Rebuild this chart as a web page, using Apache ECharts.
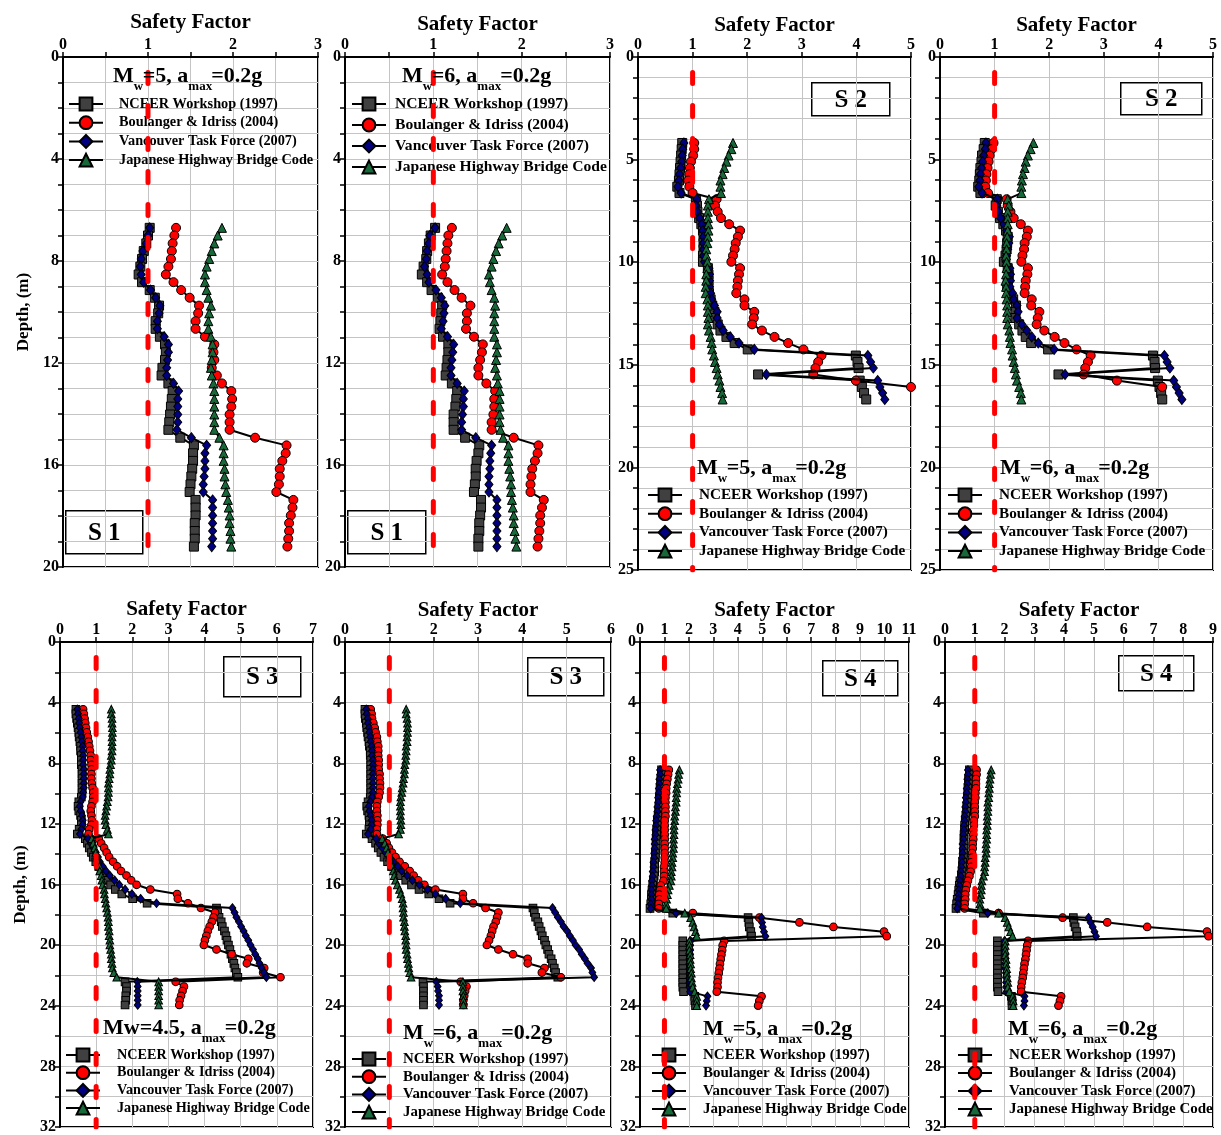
<!DOCTYPE html>
<html><head><meta charset="utf-8">
<script src="https://cdn.jsdelivr.net/npm/echarts@6/dist/echarts.min.js"></script>
<style>html,body{margin:0;padding:0;background:#fff}#c{width:1221px;height:1135px}</style>
</head><body><div id="c"></div>
<script>
const seriesNames = ['NCEER Workshop (1997)','Boulanger & Idriss (2004)','Vancouver Task Force (2007)','Japanese Highway Bridge Code'];

// depths (m)
const depthS1 = [6.70,7.00,7.31,7.61,7.92,8.22,8.53,8.83,9.14,9.44,9.75,10.05,10.36,10.66,10.97,11.27,11.58,11.88,12.19,12.49,12.80,13.10,13.41,13.71,14.02,14.32,14.62,14.93,15.23,15.54,15.84,16.15,16.45,16.76,17.06,17.37,17.67,17.98,18.28,18.59,18.89,19.20];
const depthS2 = [4.19,4.49,4.80,5.10,5.41,5.71,6.02,6.32,6.63,6.93,7.24,7.54,7.85,8.15,8.46,8.76,9.07,9.37,9.68,9.98,10.29,10.59,10.90,11.20,11.51,11.81,12.11,12.42,12.72,13.03,13.33,13.64,13.94,14.25,14.55,14.86,15.16,15.47,15.77,16.08,16.38,16.69];
const depthS3 = [4.44,4.74,5.05,5.35,5.66,5.96,6.27,6.57,6.88,7.18,7.49,7.79,8.10,8.40,8.71,9.01,9.32,9.62,9.93,10.23,10.54,10.84,11.15,11.45,11.76,12.06,12.36,12.67,12.97,13.28,13.58,13.89,14.19,14.50,14.80,15.11,15.41,15.72,16.02,16.33,16.63,16.94,17.24,17.55,17.85,18.16,18.46,18.77,19.07,19.38,19.68,19.99,20.29,20.60,20.90,21.20,21.51,21.81,22.12,22.42,22.73,23.03,23.34,23.64,23.95];
const depthS4 = [8.44,8.74,9.05,9.35,9.66,9.96,10.27,10.57,10.88,11.18,11.49,11.79,12.10,12.40,12.71,13.01,13.32,13.62,13.93,14.23,14.54,14.84,15.15,15.45,15.76,16.06,16.36,16.67,16.97,17.28,17.58,17.89,18.19,18.50,18.80,19.11,19.41,19.72,20.02,20.33,20.63,20.94,21.24,21.55,21.85,22.16,22.46,22.77,23.07,23.38,23.68,23.99];

// S1, Mw=5
const s1m5_nceer = [1.02,1.00,0.98,0.95,0.93,0.91,0.89,0.93,1.02,1.08,1.13,1.12,1.09,1.09,1.14,1.20,1.21,1.20,1.17,1.16,1.24,1.29,1.28,1.27,1.26,1.25,1.24,1.38,1.54,1.53,1.53,1.52,1.51,1.50,1.49,1.56,1.56,1.56,1.55,1.55,1.55,1.54];
const s1m5_boul = [1.33,1.31,1.29,1.28,1.27,1.24,1.21,1.30,1.39,1.49,1.60,1.59,1.56,1.56,1.67,1.78,1.77,1.78,1.75,1.81,1.87,1.98,1.99,1.98,1.96,1.96,1.96,2.26,2.63,2.62,2.58,2.55,2.55,2.54,2.51,2.71,2.70,2.68,2.66,2.66,2.65,2.64];
const s1m5_vanc = [1.02,1.00,0.98,0.94,0.92,0.91,0.92,0.95,1.03,1.09,1.14,1.13,1.11,1.11,1.19,1.24,1.24,1.23,1.22,1.22,1.30,1.36,1.35,1.35,1.35,1.35,1.34,1.51,1.69,1.67,1.67,1.67,1.66,1.65,1.65,1.76,1.76,1.76,1.76,1.76,1.76,1.75];
const s1m5_jhbc = [1.87,1.82,1.78,1.75,1.72,1.69,1.67,1.67,1.69,1.71,1.74,1.72,1.71,1.71,1.74,1.76,1.76,1.75,1.74,1.75,1.77,1.78,1.78,1.78,1.78,1.78,1.78,1.84,1.89,1.89,1.89,1.90,1.90,1.91,1.92,1.94,1.95,1.96,1.96,1.97,1.97,1.98];
// S1, Mw=6
const s1m6_nceer = [1.02,0.97,0.95,0.93,0.92,0.89,0.87,0.93,0.98,1.05,1.10,1.09,1.08,1.07,1.11,1.17,1.17,1.16,1.15,1.14,1.21,1.27,1.26,1.25,1.23,1.23,1.23,1.36,1.52,1.51,1.49,1.48,1.48,1.47,1.46,1.54,1.54,1.53,1.52,1.52,1.51,1.51];
const s1m6_boul = [1.21,1.17,1.16,1.15,1.14,1.13,1.10,1.16,1.24,1.32,1.42,1.38,1.38,1.37,1.46,1.56,1.55,1.53,1.51,1.51,1.60,1.70,1.69,1.69,1.68,1.66,1.66,1.91,2.19,2.18,2.15,2.12,2.11,2.10,2.10,2.25,2.23,2.21,2.21,2.20,2.19,2.18];
const s1m6_vanc = [1.02,0.96,0.95,0.93,0.92,0.90,0.93,0.95,1.03,1.09,1.13,1.12,1.11,1.09,1.16,1.23,1.22,1.21,1.20,1.20,1.27,1.35,1.34,1.34,1.33,1.32,1.32,1.48,1.66,1.65,1.64,1.64,1.63,1.63,1.63,1.72,1.72,1.72,1.72,1.72,1.72,1.72];
const s1m6_jhbc = [1.83,1.78,1.74,1.71,1.68,1.66,1.63,1.64,1.66,1.69,1.70,1.69,1.69,1.69,1.69,1.72,1.72,1.71,1.70,1.72,1.73,1.75,1.75,1.75,1.75,1.75,1.76,1.79,1.85,1.85,1.85,1.86,1.87,1.88,1.88,1.89,1.90,1.91,1.91,1.92,1.93,1.94];
// S2, Mw=5
const s2m5_nceer = [0.81,0.80,0.79,0.78,0.77,0.76,0.75,0.72,0.76,1.06,1.08,1.09,1.12,1.16,1.19,1.20,1.20,1.20,1.19,1.19,1.28,1.29,1.29,1.29,1.30,1.33,1.36,1.40,1.41,1.46,1.51,1.62,1.77,2.01,3.99,4.02,4.04,2.20,4.06,4.10,4.14,4.18];
const s2m5_boul = [1.03,1.03,1.01,0.97,0.95,0.94,0.92,0.94,1.00,1.44,1.41,1.46,1.52,1.67,1.87,1.83,1.79,1.77,1.74,1.71,1.87,1.85,1.83,1.82,1.80,1.95,1.95,2.13,2.12,2.09,2.27,2.50,2.75,3.03,3.36,3.30,3.25,3.21,3.99,5.00];
const s2m5_vanc = [0.84,0.82,0.81,0.80,0.78,0.76,0.75,0.73,0.79,1.08,1.06,1.09,1.13,1.17,1.19,1.20,1.20,1.20,1.20,1.22,1.30,1.31,1.31,1.31,1.33,1.35,1.40,1.45,1.45,1.49,1.56,1.69,1.85,2.13,4.21,4.26,4.31,2.35,4.39,4.43,4.48,4.52];
const s2m5_jhbc = [1.74,1.71,1.66,1.62,1.58,1.55,1.51,1.51,1.52,1.30,1.28,1.28,1.28,1.29,1.29,1.28,1.27,1.25,1.25,1.27,1.27,1.25,1.25,1.24,1.24,1.27,1.28,1.28,1.29,1.28,1.30,1.33,1.35,1.36,1.39,1.41,1.44,1.46,1.49,1.51,1.54,1.55];
// S2, Mw=6
const s2m6_nceer = [0.82,0.80,0.77,0.76,0.74,0.73,0.72,0.70,0.74,1.04,1.02,1.06,1.10,1.16,1.21,1.24,1.23,1.22,1.20,1.17,1.24,1.26,1.24,1.23,1.27,1.34,1.39,1.38,1.38,1.45,1.51,1.57,1.67,1.98,3.90,3.93,3.94,2.17,3.99,4.02,4.05,4.07];
const s2m6_boul = [0.98,0.95,0.91,0.89,0.87,0.85,0.84,0.83,0.88,1.22,1.24,1.29,1.35,1.48,1.61,1.59,1.55,1.54,1.51,1.49,1.61,1.60,1.57,1.56,1.55,1.68,1.67,1.82,1.79,1.77,1.91,2.10,2.28,2.50,2.76,2.71,2.66,2.63,3.24,4.07];
const s2m6_vanc = [0.84,0.83,0.80,0.78,0.76,0.74,0.73,0.71,0.77,1.05,1.04,1.07,1.11,1.17,1.22,1.27,1.26,1.24,1.22,1.21,1.28,1.29,1.29,1.28,1.33,1.35,1.41,1.43,1.41,1.50,1.59,1.68,1.80,2.09,4.11,4.16,4.21,2.29,4.28,4.33,4.38,4.43];
const s2m6_jhbc = [1.71,1.66,1.61,1.57,1.55,1.52,1.50,1.49,1.49,1.24,1.26,1.24,1.24,1.24,1.24,1.23,1.22,1.22,1.21,1.22,1.22,1.21,1.20,1.21,1.21,1.22,1.23,1.23,1.23,1.24,1.27,1.28,1.29,1.32,1.33,1.35,1.37,1.39,1.41,1.45,1.48,1.49];
// S3, Mw=4.5
const s3m45_nceer = [0.44,0.44,0.46,0.48,0.50,0.52,0.53,0.55,0.57,0.57,0.59,0.59,0.59,0.61,0.61,0.61,0.61,0.61,0.61,0.59,0.52,0.50,0.52,0.57,0.59,0.59,0.53,0.48,0.70,0.76,0.81,0.87,0.92,0.99,1.07,1.16,1.23,1.31,1.40,1.53,1.71,2.01,2.41,4.33,4.36,4.40,4.46,4.49,4.55,4.59,4.62,4.66,4.70,4.73,4.77,4.81,4.84,4.88,4.92,1.80,1.84,1.84,1.82,1.82,1.80];
const s3m45_boul = [0.64,0.66,0.68,0.70,0.72,0.74,0.77,0.79,0.81,0.83,0.85,0.85,0.87,0.87,0.87,0.87,0.88,0.90,0.92,0.92,0.90,0.87,0.85,0.87,0.88,0.87,0.81,0.79,1.07,1.14,1.22,1.29,1.36,1.47,1.58,1.69,1.84,1.97,2.12,2.50,3.24,3.26,3.54,3.90,4.29,4.25,4.20,4.14,4.09,4.05,4.01,3.98,4.33,4.75,5.21,5.17,5.65,5.62,6.10,3.20,3.43,3.39,3.35,3.31,3.30];
const s3m45_vanc = [0.48,0.50,0.52,0.53,0.55,0.57,0.59,0.61,0.63,0.63,0.64,0.64,0.64,0.66,0.66,0.66,0.66,0.66,0.64,0.63,0.57,0.55,0.57,0.61,0.63,0.63,0.59,0.55,0.77,0.85,0.92,0.99,1.05,1.10,1.18,1.27,1.38,1.51,1.64,1.80,1.99,2.23,2.67,4.77,4.83,4.88,4.95,5.01,5.08,5.14,5.21,5.27,5.34,5.40,5.47,5.52,5.58,5.64,5.71,2.14,2.15,2.15,2.15,2.15,2.15];
const s3m45_jhbc = [1.42,1.42,1.44,1.44,1.45,1.45,1.44,1.44,1.44,1.44,1.42,1.42,1.40,1.38,1.38,1.36,1.34,1.34,1.34,1.33,1.31,1.29,1.27,1.25,1.25,1.27,1.31,1.34,0.88,0.92,0.96,0.99,1.01,1.05,1.09,1.10,1.14,1.16,1.18,1.22,1.23,1.25,1.27,1.29,1.31,1.33,1.34,1.34,1.36,1.36,1.38,1.38,1.40,1.42,1.42,1.44,1.45,1.49,1.57,2.73,2.73,2.73,2.73,2.73,2.73];
// S3, Mw=6
const s3m6_nceer = [0.45,0.45,0.46,0.48,0.49,0.51,0.52,0.54,0.55,0.57,0.57,0.58,0.58,0.58,0.58,0.58,0.58,0.58,0.58,0.57,0.52,0.49,0.51,0.54,0.55,0.55,0.54,0.48,0.61,0.69,0.75,0.81,0.88,0.96,1.05,1.14,1.25,1.37,1.50,1.67,1.89,2.12,2.37,4.24,4.27,4.30,4.35,4.38,4.42,4.45,4.50,4.53,4.57,4.60,4.65,4.68,4.72,4.75,4.80,1.76,1.77,1.77,1.77,1.77,1.77];
const s3m6_boul = [0.58,0.60,0.61,0.64,0.67,0.69,0.72,0.73,0.75,0.75,0.75,0.76,0.76,0.76,0.78,0.78,0.79,0.79,0.78,0.76,0.73,0.72,0.72,0.73,0.73,0.73,0.72,0.72,0.85,0.94,0.99,1.06,1.14,1.23,1.35,1.46,1.55,1.65,1.79,2.04,2.66,2.66,2.89,3.17,3.46,3.43,3.40,3.35,3.32,3.29,3.25,3.20,3.46,3.79,4.12,4.12,4.50,4.44,4.87,2.61,2.74,2.71,2.69,2.67,2.67];
const s3m6_vanc = [0.48,0.49,0.51,0.52,0.54,0.55,0.57,0.58,0.60,0.61,0.61,0.63,0.63,0.63,0.63,0.63,0.63,0.63,0.63,0.61,0.57,0.54,0.55,0.58,0.60,0.60,0.58,0.52,0.70,0.76,0.84,0.91,1.00,1.09,1.19,1.28,1.40,1.52,1.68,1.86,2.04,2.27,2.60,4.68,4.74,4.80,4.87,4.93,5.01,5.07,5.14,5.20,5.28,5.34,5.41,5.47,5.55,5.58,5.62,2.06,2.09,2.10,2.12,2.12,2.12];
const s3m6_jhbc = [1.38,1.38,1.40,1.41,1.41,1.41,1.40,1.40,1.38,1.38,1.37,1.37,1.35,1.34,1.34,1.32,1.31,1.29,1.28,1.26,1.25,1.25,1.25,1.25,1.26,1.26,1.25,1.21,0.84,0.90,0.94,0.97,1.00,1.03,1.06,1.09,1.11,1.14,1.18,1.23,1.26,1.29,1.31,1.31,1.32,1.32,1.34,1.34,1.35,1.37,1.37,1.38,1.38,1.40,1.41,1.43,1.44,1.46,1.49,2.66,2.66,2.66,2.67,2.67,2.67];
// S4, Mw=5
const s4m5_nceer = [0.88,0.88,0.85,0.85,0.82,0.82,0.79,0.79,0.77,0.77,0.74,0.71,0.71,0.68,0.68,0.66,0.66,0.66,0.63,0.63,0.60,0.60,0.60,0.58,0.55,0.52,0.49,0.47,0.47,0.44,0.41,1.34,4.42,4.45,4.47,4.53,4.56,1.75,1.75,1.75,1.75,1.75,1.75,1.75,1.75,1.75,1.75,1.75,1.78,2.24,2.24,2.27];
const s4m5_boul = [1.18,1.15,1.12,1.09,1.07,1.07,1.04,1.04,1.04,1.04,1.04,1.01,1.01,1.01,1.01,1.01,1.01,1.01,1.01,1.01,1.01,0.98,0.98,0.98,0.96,0.85,0.82,0.79,0.79,0.77,0.77,2.16,4.88,6.52,7.91,9.98,10.09,3.44,3.38,3.36,3.33,3.30,3.27,3.25,3.22,3.19,3.17,3.17,3.14,4.97,4.88,4.83];
const s4m5_vanc = [0.82,0.82,0.79,0.79,0.77,0.77,0.74,0.74,0.71,0.71,0.68,0.66,0.66,0.63,0.63,0.60,0.60,0.60,0.58,0.58,0.55,0.55,0.52,0.52,0.49,0.49,0.47,0.47,0.47,0.44,0.44,1.48,4.97,4.99,5.02,5.07,5.13,2.07,2.05,2.05,2.05,2.02,2.02,2.02,2.02,2.02,2.02,2.02,2.05,2.76,2.73,2.70];
const s4m5_jhbc = [1.61,1.58,1.56,1.53,1.50,1.50,1.48,1.48,1.45,1.45,1.42,1.42,1.39,1.39,1.39,1.37,1.37,1.37,1.34,1.34,1.31,1.31,1.28,1.28,1.26,1.20,1.15,1.12,1.09,1.07,1.07,1.83,2.07,2.16,2.21,2.27,2.32,2.02,2.02,2.02,2.05,2.05,2.07,2.07,2.10,2.10,2.13,2.16,2.24,2.32,2.32,2.32];
// S4, Mw=6
const s4m6_nceer = [0.82,0.82,0.79,0.79,0.77,0.77,0.75,0.75,0.73,0.73,0.70,0.68,0.66,0.66,0.64,0.64,0.64,0.64,0.62,0.62,0.59,0.59,0.57,0.55,0.50,0.48,0.46,0.44,0.41,0.39,0.37,1.29,4.31,4.33,4.37,4.42,4.44,1.76,1.76,1.76,1.76,1.76,1.76,1.76,1.76,1.76,1.76,1.76,1.78,2.23,2.25,2.25];
const s4m6_boul = [1.06,1.06,1.04,1.04,1.04,1.02,1.02,1.00,1.00,1.00,1.00,0.97,0.97,0.95,0.95,0.95,0.93,0.93,0.91,0.91,0.88,0.88,0.86,0.82,0.77,0.73,0.70,0.68,0.68,0.66,0.66,1.80,3.95,5.45,6.79,8.80,8.85,2.79,2.76,2.74,2.72,2.70,2.67,2.65,2.63,2.61,2.58,2.56,2.56,3.90,3.86,3.81];
const s4m6_vanc = [0.77,0.77,0.75,0.75,0.73,0.73,0.70,0.70,0.68,0.68,0.66,0.66,0.64,0.64,0.62,0.62,0.59,0.59,0.59,0.57,0.57,0.55,0.53,0.53,0.50,0.48,0.46,0.46,0.44,0.44,0.41,1.44,4.82,4.89,4.96,5.02,5.07,2.00,2.00,2.00,2.02,2.02,2.02,2.02,2.05,2.05,2.05,2.05,2.07,2.67,2.67,2.65];
const s4m6_jhbc = [1.55,1.53,1.51,1.49,1.49,1.47,1.47,1.44,1.44,1.44,1.42,1.42,1.42,1.40,1.40,1.40,1.38,1.38,1.38,1.35,1.35,1.33,1.33,1.29,1.24,1.22,1.22,1.20,1.17,1.17,1.17,1.80,2.02,2.09,2.14,2.20,2.27,2.02,2.02,2.02,2.02,2.05,2.05,2.07,2.07,2.09,2.11,2.11,2.16,2.27,2.29,2.29];

const FONT = '"Liberation Serif", "Times New Roman", serif';

const panels = [
  {grid:[63,57,255,510], xMax:3, xInt:0.5, yMax:20, yInt:1, yLab:4, depth:depthS1, ms:1,
   data:[s1m5_nceer,s1m5_boul,s1m5_vanc,s1m5_jhbc], yName:'Depth, (m)', tGap:24,
   ann:{left:113, top:65, mw:'5', wSub:true}, leg:{left:68, top:96, gap:2.7, tpad:11, fs:14.3},
   box:{x:65, y:510, w:77, h:43, t:'S 1'}},
  {grid:[345,57,265,510], xMax:3, xInt:0.5, yMax:20, yInt:1, yLab:4, depth:depthS1, ms:1,
   data:[s1m6_nceer,s1m6_boul,s1m6_vanc,s1m6_jhbc], tGap:22,
   ann:{left:402, top:65, mw:'6', wSub:true}, leg:{left:351, top:96, gap:5, tpad:4, fs:15.6},
   box:{x:347, y:510, w:78, h:43, t:'S 1'}},
  {grid:[638,57,273,513], xMax:5, xInt:1, yMax:25, yInt:1, yLab:5, depth:depthS2, ms:1,
   data:[s2m5_nceer,s2m5_boul,s2m5_vanc,s2m5_jhbc], tGap:19,
   ann:{left:697, top:457, mw:'5', wSub:true}, leg:{left:647, top:487, gap:2.7, tpad:12, fs:15.2},
   box:{x:811, y:82, w:78, h:33, t:'S 2'}},
  {grid:[940,57,273,513], xMax:5, xInt:1, yMax:25, yInt:1, yLab:5, depth:depthS2, ms:1,
   data:[s2m6_nceer,s2m6_boul,s2m6_vanc,s2m6_jhbc], tGap:19,
   ann:{left:1000, top:457, mw:'6', wSub:true}, leg:{left:947, top:487, gap:2.7, tpad:12, fs:15.2},
   box:{x:1120, y:82, w:81, h:32, t:'S 2'}},
  {grid:[60,642,253,486], xMax:7, xInt:1, yMax:32, yInt:2, yLab:4, depth:depthS3, ms:0.85,
   data:[s3m45_nceer,s3m45_boul,s3m45_vanc,s3m45_jhbc], yName:'Depth, (m)', tGap:22,
   ann:{left:103, top:1017, mw:'4.5', wSub:false}, leg:{left:65, top:1047, gap:1.7, tpad:12, fs:14.2},
   box:{x:223, y:656, w:77, h:40, t:'S 3'}},
  {grid:[345,642,266,489], xMax:6, xInt:1, yMax:32, yInt:2, yLab:4, depth:depthS3, ms:0.85,
   data:[s3m6_nceer,s3m6_boul,s3m6_vanc,s3m6_jhbc], tGap:18,
   ann:{left:403, top:1022, mw:'6', wSub:true}, leg:{left:351, top:1051, gap:1.7, tpad:12, fs:14.9},
   box:{x:527, y:657, w:76, h:38, t:'S 3'}},
  {grid:[640,642,269,490], xMax:11, xInt:1, yMax:32, yInt:2, yLab:4, depth:depthS4, ms:0.85,
   data:[s4m5_nceer,s4m5_boul,s4m5_vanc,s4m5_jhbc], tGap:18,
   ann:{left:703, top:1018, mw:'5', wSub:true}, leg:{left:651, top:1047, gap:2, tpad:12, fs:15},
   box:{x:822, y:660, w:75, h:35, t:'S 4'}},
  {grid:[945,642,268,490], xMax:9, xInt:1, yMax:32, yInt:2, yLab:4, depth:depthS4, ms:0.85,
   data:[s4m6_nceer,s4m6_boul,s4m6_vanc,s4m6_jhbc], tGap:18,
   ann:{left:1008, top:1018, mw:'6', wSub:true}, leg:{left:957, top:1047, gap:2, tpad:12, fs:15},
   box:{x:1118, y:655, w:75, h:35, t:'S 4'}}
];

const markerStyles = [
  {symbol:'rect', size:[9,9], color:'#404040'},
  {symbol:'circle', size:[9,9], color:'#ff0000'},
  {symbol:'diamond', size:[8,10], color:'#000080'},
  {symbol:'triangle', size:[9,9], color:'#17693a'}
];

const grids = [], xAxes = [], yAxes = [], series = [], legends = [], titles = [], graphics = [];

panels.forEach((p, k) => {
  grids.push({left:p.grid[0], top:p.grid[1], width:p.grid[2], height:p.grid[3],
    show:true, borderColor:'#000', borderWidth:2, backgroundColor:'transparent', containLabel:false});
  xAxes.push({type:'value', gridIndex:k, position:'top', min:0, max:p.xMax, interval:p.xInt,
    name:'Safety Factor', nameLocation:'middle', nameGap:p.tGap,
    nameTextStyle:{fontFamily:FONT, fontWeight:'bold', fontSize:21, color:'#000'},
    axisLine:{show:true, lineStyle:{color:'#000', width:2}},
    axisTick:{show:true, length:5, lineStyle:{color:'#000', width:1.5}},
    axisLabel:{fontFamily:FONT, fontWeight:'bold', fontSize:16, color:'#000', margin:4,
      formatter:v => Math.abs(v - Math.round(v)) < 1e-6 ? String(Math.round(v)) : ''},
    splitLine:{show:true, lineStyle:{color:'#c4c4c4', width:1}}});
  yAxes.push({type:'value', gridIndex:k, inverse:true, min:0, max:p.yMax, interval:p.yInt,
    name:p.yName || '', nameLocation:'middle', nameGap:31,
    nameTextStyle:{fontFamily:FONT, fontWeight:'bold', fontSize:17, color:'#000'},
    axisLine:{show:true, lineStyle:{color:'#000', width:2}},
    axisTick:{show:true, length:5, lineStyle:{color:'#000', width:1.5}},
    axisLabel:{fontFamily:FONT, fontWeight:'bold', fontSize:16, color:'#000', margin:4,
      formatter:v => (Math.round(v) % p.yLab === 0) ? String(Math.round(v)) : ''},
    splitLine:{show:true, lineStyle:{color:'#c4c4c4', width:1}}});
  p.data.forEach((vals, s) => {
    const m = markerStyles[s];
    series.push({name:seriesNames[s], type:'line', xAxisIndex:k, yAxisIndex:k,
      data: vals.map((v, i) => [v, p.depth[i]]),
      symbol:m.symbol, symbolSize:[m.size[0]*p.ms, m.size[1]*p.ms], showAllSymbol:true,
      itemStyle:{color:m.color, borderColor:'#000', borderWidth:1},
      lineStyle:{color:'#000', width:2}, z:2 + s * 0.1, animation:false});
  });
  series.push({name:'FS = 1', type:'line', xAxisIndex:k, yAxisIndex:k, silent:true,
    data:[[1,0],[1,p.yMax]], symbol:'none',
    lineStyle:{color:'#ff0000', width:5, type:[11,22], dashOffset:17.5, cap:'round'}, z:5, animation:false});
  legends.push({left:p.leg.left, top:p.leg.top, orient:'vertical', padding:0,
    itemGap:p.leg.gap, itemWidth:34, itemHeight:16, data:seriesNames, selectedMode:false,
    textStyle:{fontFamily:FONT, fontWeight:'bold', fontSize:p.leg.fs, lineHeight:16, color:'#000', padding:[0,0,0,p.leg.tpad]}});
  const sub = p.ann.wSub;
  titles.push({left:p.ann.left, top:p.ann.top, padding:0,
    text: sub ? '{m|M}{w|w}{m|=' + p.ann.mw + ', a}{x|max}{m|=0.2g}' : '{m|Mw=' + p.ann.mw + ', a}{x|max}{m|=0.2g}',
    textStyle:{rich:{
      m:{fontFamily:FONT, fontWeight:'bold', fontSize:22, lineHeight:24, color:'#000', verticalAlign:'top'},
      w:{fontFamily:FONT, fontWeight:'bold', fontSize:13, lineHeight:13, width:9, color:'#000', padding:[15,0,0,0], verticalAlign:'top'},
      x:{fontFamily:FONT, fontWeight:'bold', fontSize:13, lineHeight:13, width:23, color:'#000', padding:[15,0,0,0], verticalAlign:'top'}
    }}});
  graphics.push({type:'group', left:p.box.x, top:p.box.y, z:20, children:[
    {type:'rect', shape:{x:0, y:0, width:p.box.w, height:p.box.h}, style:{fill:'#fff', stroke:'#000', lineWidth:1.5}},
    {type:'text', style:{text:p.box.t, x:p.box.w/2, y:p.box.h/2 + 1, align:'center', verticalAlign:'middle',
      font:'bold 25px ' + FONT, fill:'#000'}}
  ]});
});

const chart = echarts.init(document.getElementById('c'), null, {renderer:'canvas'});
chart.setOption({
  animation:false, backgroundColor:'#fff',
  grid:grids, xAxis:xAxes, yAxis:yAxes, series:series, legend:legends, title:titles, graphic:graphics
});
</script>
</body></html>
